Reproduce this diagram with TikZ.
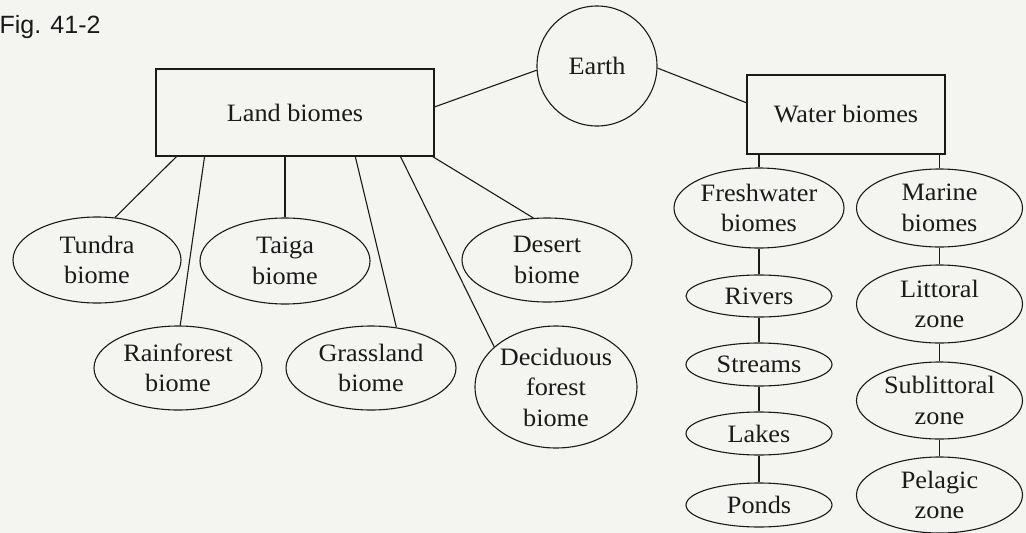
\documentclass[tikz,border=0pt]{standalone}
\usepackage{fontspec}
\setmainfont{Liberation Serif}[FakeStretch=1.05]
\newfontfamily\figfont{Liberation Sans}
\usetikzlibrary{shapes.geometric,calc}
\definecolor{paper}{HTML}{F4F5F1}
\definecolor{ink}{HTML}{1A1A1A}
\newcommand\diaglbl{\fontsize{25}{30.5}\selectfont}
\begin{document}
\begin{tikzpicture}[x=1pt,y=-1pt,line width=1.1pt,
  box/.style={draw=ink,rectangle,inner sep=0pt,text=ink,font=\diaglbl},
  ell/.style={draw=ink,ellipse,inner sep=-14pt,align=center,text=ink,font=\diaglbl},
  link/.style={draw=ink,line width=1.1pt}]
\fill[paper] (0,0) rectangle (1026,533);
\useasboundingbox (0,0) rectangle (1026,533);

\node[anchor=base west,inner sep=0pt,text=ink,font=\figfont\fontsize{25}{30}\selectfont] (fig) at (-1,33) {Fig. 41-2};

\node[box,minimum width=278pt,minimum height=87pt] (land) at (295,112.5) {Land biomes};
\node[box,minimum width=198pt,minimum height=79pt] (water) at (846,114.5) {Water biomes};
\node[draw=ink,circle,minimum size=120pt,inner sep=0pt,text=ink,font=\diaglbl] (earth) at (597,66) {Earth};

\node[ell,minimum width=168pt,minimum height=86pt] (tundra) at (97,260) {Tundra\\biome};
\node[ell,minimum width=170pt,minimum height=86pt] (taiga) at (285,261) {Taiga\\biome};
\node[ell,minimum width=168pt,minimum height=84pt] (rain) at (178,368) {Rainforest\\biome};
\node[ell,minimum width=170pt,minimum height=84pt] (grass) at (371,368) {Grassland\\biome};
\node[ell,minimum width=170pt,minimum height=84pt] (desert) at (547,260) {Desert\\biome};
\node[ell,minimum width=162pt,minimum height=122pt] (decid) at (556,387) {Deciduous\\forest\\biome};

\node[ell,minimum width=170pt,minimum height=80pt] (fresh) at (759,208) {Freshwater\\biomes};
\node[ell,minimum width=166pt,minimum height=78pt] (marine) at (939.5,208) {Marine\\biomes};
\node[ell,minimum width=146pt,minimum height=42pt] (rivers) at (759,296) {Rivers};
\node[ell,minimum width=146pt,minimum height=43pt] (streams) at (759,364.5) {Streams};
\node[ell,minimum width=146pt,minimum height=43pt] (lakes) at (759,433.5) {Lakes};
\node[ell,minimum width=146pt,minimum height=44pt] (ponds) at (759,505) {Ponds};
\node[ell,minimum width=166pt,minimum height=78pt] (littoral) at (939.5,304) {Littoral\\zone};
\node[ell,minimum width=166pt,minimum height=77pt] (sublit) at (939.5,400.5) {Sublittoral\\zone};
\node[ell,minimum width=166pt,minimum height=76pt] (pelagic) at (939.5,495) {Pelagic\\zone};

\draw[link] (earth.184) -- ($(land.north east)!0.437!(land.south east)$);
\draw[link] (earth.-2) -- ($(water.north west)!0.354!(water.south west)$);

\draw[link] ($(land.south west)!0.0755!(land.south east)$) -- (tundra.67);
\draw[link] ($(land.south west)!0.176!(land.south east)$) -- (rain.87);
\draw[link] (land.south -| taiga.north) -- (taiga.north);
\draw[link] ($(land.south west)!0.716!(land.south east)$) -- (grass.58);
\draw[link] ($(land.south west)!0.878!(land.south east)$) -- (decid.147.6);
\draw[link] ($(land.south west)!0.993!(land.south east)$) -- (desert.108);

\draw[link] (water.south -| fresh.north) -- (fresh.north);
\draw[link] (water.south -| marine.north) -- (marine.north);
\draw[link] (fresh) -- (rivers);
\draw[link] (rivers) -- (streams);
\draw[link] (streams) -- (lakes);
\draw[link] (lakes) -- (ponds);
\draw[link] (marine) -- (littoral);
\draw[link] (littoral) -- (sublit);
\draw[link] (sublit) -- (pelagic);
\end{tikzpicture}
\end{document}
